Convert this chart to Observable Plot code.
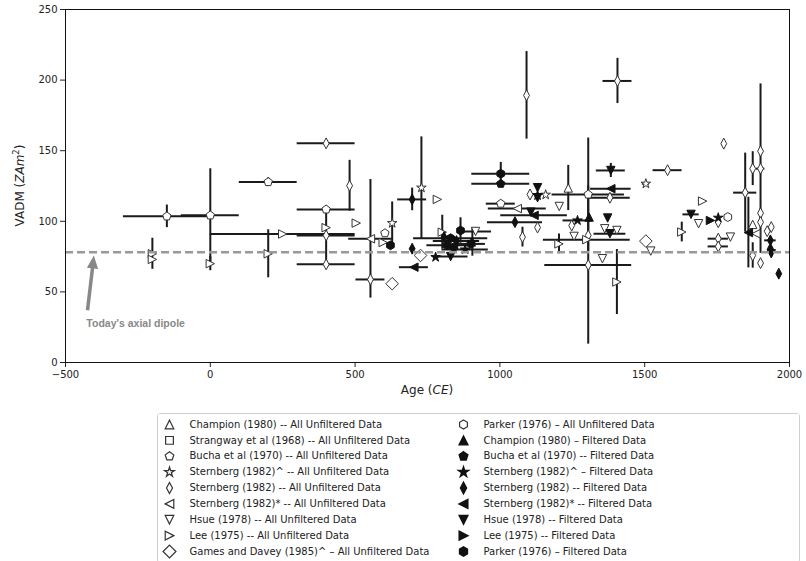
<!DOCTYPE html>
<html>
<head>
<meta charset="utf-8">
<script src="https://cdn.jsdelivr.net/npm/d3@7"></script>
<script src="https://cdn.jsdelivr.net/npm/@observablehq/plot@0.6"></script>
<style>
  body { margin: 0; background: white; }
  #wrap { position: relative; width: 806px; height: 561px; font-family: "DejaVu Sans", sans-serif; }
  #chart { position: absolute; left: 0; top: 0; }
  #legend { position: absolute; left: 157px; top: 413px; width: 643px; height: 150px; border: 1px solid #cfcfcf; border-radius: 3px; box-sizing: border-box; }
</style>
</head>
<body>
<div id="wrap"><div id="chart"></div><div id="legend"></div></div>
<script>
// ---------- DATA: [age (CE), VADM (ZAm^2), age error (±yr), VADM error (±)] ----------
const champU = [[1236, 123.6, 0, 16], [1873, 97.8, 0, 0]];
const strangwayU = [];
const buchaU = [[-150, 103.5, 150, 8], [0, 104.2, 100, 33], [200, 127.8, 100, 3], [400, 108.4, 100, 0], [603, 91.6, 0, 0], [1003, 112.5, 50, 0], [1305, 119, 125, 40]];
const sternCaretU = [[628, 98.7, 0, 15], [729, 123.8, 0, 36], [1158, 118.8, 0, 0], [1504, 126.6, 12, 0]];
const sternU = [[400, 155.2, 100, 0], [481, 125.2, 0, 18], [400, 90, 100, 21], [400, 69.5, 100, 0], [553, 58.8, 50, 0],
  [1092, 189.2, 0, 31], [1406, 199.4, 50, 16], [1104, 119, 0, 0], [1078, 88.8, 0, 7], [1130, 95.6, 0, 0], [1248, 97, 0, 0],
  [1305, 90, 0, 0], [1305, 69, 150, 56], [1380, 116.7, 70, 0], [1579, 136.2, 50, 0], [1773, 155, 0, 0], [1754, 99.4, 0, 0],
  [1754, 87.7, 35, 0], [1754, 82.2, 35, 0], [1847, 120.3, 40, 28], [1873, 137.3, 0, 12], [1900, 137.3, 15, 60],
  [1900, 149.7, 0, 0], [1900, 105.8, 0, 0], [1900, 99.4, 0, 0], [1937, 95.9, 0, 0], [1923, 93, 0, 0], [1873, 75.8, 0, 9], [1900, 70.4, 0, 0]];
const sternStarU = [[553, 87.6, 75, 42], [1060, 109, 100, 0], [1884, 91.2, 0, 0]];
const hsueU = [[916, 92.8, 55, 0], [1205, 110.5, 0, 0], [1256, 89.3, 0, 0], [1362, 94.7, 0, 0], [1404, 93.5, 0, 0],
  [1354, 73.5, 0, 0], [1521, 78.9, 0, 0], [1686, 98.3, 0, 0], [1796, 88.8, 0, 0]];
const leeU = [[-200, 77, 0, 11], [-200, 73, 0, 0], [0, 70, 0, 5], [200, 77, 0, 17], [250, 91, 250, 0], [400, 95.5, 0, 0],
  [504, 98.7, 0, 0], [597, 85, 0, 0], [784, 115.5, 0, 0], [801, 92.3, 0, 12], [1204, 84, 0, 7], [1300, 87, 150, 0],
  [1404, 57, 0, 23], [1628, 92.4, 0, 7], [1700, 114.3, 0, 0]];
const gamesU = [[628, 55.8, 0, 0], [726, 75.8, 0, 0], [1504, 86, 0, 0]];
const parkerU = [[1787, 103, 0, 0]];
const champF = [[1308, 103, 0, 0]];
const buchaF = [[1003, 126.6, 100, 0]];
const sternCaretF = [[778, 74.6, 0, 0], [905, 85.3, 0, 10], [1130, 118.3, 0, 0], [1268, 100.6, 50, 0], [1754, 102.5, 0, 0], [880, 80, 80, 0]];
const sternF = [[697, 115.5, 50, 8], [697, 80.6, 0, 0], [807, 88.8, 0, 0], [850, 86, 80, 0], [1052, 99.4, 95, 0],
  [1934, 86.5, 20, 0], [1934, 80.6, 0, 0], [1963, 62.9, 0, 0]];
const sternStarF = [[703, 67.5, 50, 0], [1383, 123.1, 70, 0], [1858, 92, 0, 25], [1118, 104.2, 115, 0]];
const hsueF = [[1130, 123.8, 0, 0], [1130, 116.7, 0, 0], [1107, 106.5, 0, 0], [1383, 136, 50, 5], [1372, 102.3, 0, 0],
  [1380, 91.2, 55, 0], [1660, 104.9, 28, 0], [1937, 77, 0, 0], [830, 75, 60, 0]];
const leeF = [[1727, 100.6, 0, 0]];
const parkerF = [[864, 93.5, 0, 9], [818, 83, 70, 0], [841, 81.7, 0, 0], [900, 84, 50, 0], [1003, 133.7, 100, 8], [622, 83, 0, 0], [830, 88, 128, 0]];

const seriesNames = [
  "Champion (1980) -- All Unfiltered Data",
  "Strangway et al (1968) -- All Unfiltered Data",
  "Bucha et al (1970) -- All Unfiltered Data",
  "Sternberg (1982)^ -- All Unfiltered Data",
  "Sternberg (1982) -- All Unfiltered Data",
  "Sternberg (1982)* -- All Unfiltered Data",
  "Hsue (1978) -- All Unfiltered Data",
  "Lee (1975) -- All Unfiltered Data",
  "Games and Davey (1985)^ \u2013 All Unfiltered Data",
  "Parker (1976) \u2013 All Unfiltered Data",
  "Champion (1980) \u2013 Filtered Data",
  "Bucha et al (1970) -- Filtered Data",
  "Sternberg (1982)^ \u2013 Filtered Data",
  "Sternberg (1982) -- Filtered Data",
  "Sternberg (1982)* -- Filtered Data",
  "Hsue (1978) -- Filtered Data",
  "Lee (1975) -- Filtered Data",
  "Parker (1976) \u2013 Filtered Data"
];
const seriesData = [champU, strangwayU, buchaU, sternCaretU, sternU, sternStarU, hsueU, leeU, gamesU, parkerU,
  champF, buchaF, sternCaretF, sternF, sternStarF, hsueF, leeF, parkerF];
const seriesFilled = [false, false, false, false, false, false, false, false, false, false,
  true, true, true, true, true, true, true, true];

const xTicks = [-500, 0, 500, 1000, 1500, 2000];
const yTicks = [0, 50, 100, 150, 200, 250];
const dipoleVADM = 78;
const dipoleArrow = [{x1: -424, y1: 37, x2: -405, y2: 70}];
const dipoleNote = [{x: -428, y: 27.5, text: "Today's axial dipole"}];

// ---------- marker shapes (matplotlib-like) ----------
function polygon(points) {
  return {draw(context, size) {
    const r = Math.sqrt(size / Math.PI);
    points.forEach(([x, y], i) => i ? context.lineTo(x * r, y * r) : context.moveTo(x * r, y * r));
    context.closePath();
  }};
}
const regular = (n, rad) => d3.range(n).map(i => { const a = (-90 + i * 360 / n) * Math.PI / 180; return [rad * Math.cos(a), rad * Math.sin(a)]; });
const starPts = d3.range(10).map(i => { const rad = i % 2 ? 0.45 : 1.2; const a = (-90 + i * 36) * Math.PI / 180; return [rad * Math.cos(a), rad * Math.sin(a)]; });
const triUp = polygon([[0, -1], [1, 1], [-1, 1]]);
const triDown = polygon([[0, 1], [1, -1], [-1, -1]]);
const triLeft = polygon([[-1, 0], [1, -1], [1, 1]]);
const triRight = polygon([[1, 0], [-1, -1], [-1, 1]]);
const square = polygon([[-0.9, -0.9], [0.9, -0.9], [0.9, 0.9], [-0.9, 0.9]]);
const pentagon = polygon(regular(5, 1.05));
const star = polygon(starPts);
const thinDiamond = polygon([[0, -1.3], [0.7, 0], [0, 1.3], [-0.7, 0]]);
const diamond = polygon([[0, -1.5], [1.5, 0], [0, 1.5], [-1.5, 0]]);
const hexagon = polygon(regular(6, 1.05));
const arrowHead = polygon([[0, -1.4], [1, 0.9], [-1, 0.9]]);
const seriesShapes = [triUp, square, pentagon, star, thinDiamond, triLeft, triDown, triRight, diamond, hexagon,
  triUp, pentagon, star, thinDiamond, triLeft, triDown, triRight, hexagon];

const rows = seriesData.flatMap((arr, i) => arr.map(([age, vadm, dx, dy]) =>
  ({series: seriesNames[i], filled: seriesFilled[i], age, vadm, dx, dy})));

const symbolScale = {domain: seriesNames, range: seriesShapes, legend: false};
const fmtX = d => d < 0 ? "\u2212" + Math.abs(d) : String(d);

const chart = Plot.plot({
  width: 806, height: 402,
  marginLeft: 65, marginRight: 17, marginTop: 9, marginBottom: 40,
  style: {fontFamily: "DejaVu Sans", fontSize: "10px", color: "#222", background: "white", overflow: "visible"},
  x: {domain: [-500, 2000], ticks: xTicks, tickFormat: fmtX, tickSize: 5, tickPadding: 3, label: null},
  y: {domain: [0, 250], ticks: yTicks, tickFormat: d => String(d), tickSize: 5, tickPadding: 3, label: null},
  symbol: symbolScale,
  marks: [
    Plot.ruleY(rows.filter(d => d.dx > 0), {y: "vadm", x1: d => d.age - d.dx, x2: d => d.age + d.dx, stroke: "#1a1a1a", strokeWidth: 2}),
    Plot.ruleX(rows.filter(d => d.dy > 0), {x: "age", y1: d => d.vadm - d.dy, y2: d => d.vadm + d.dy, stroke: "#1a1a1a", strokeWidth: 2}),
    Plot.dot(rows.filter(d => !d.filled), {x: "age", y: "vadm", symbol: "series", r: 4.2, fill: "white", stroke: "#333", strokeWidth: 1}),
    Plot.dot(rows.filter(d => d.filled), {x: "age", y: "vadm", symbol: "series", r: 4.2, fill: "#111", stroke: "#111", strokeWidth: 1}),
    Plot.ruleY([dipoleVADM], {stroke: "#999", strokeWidth: 2.5, strokeDasharray: "8,4"}),
    Plot.link(dipoleArrow, {x1: "x1", y1: "y1", x2: "x2", y2: "y2", stroke: "#888", strokeWidth: 3.5}),
    Plot.dot(dipoleArrow, {x: "x2", y: "y2", symbol: () => arrowHead, r: 4.5, rotate: 6, fill: "#888", stroke: "#888"}),
    Plot.text(dipoleNote, {x: "x", y: "y", text: "text", textAnchor: "start", fill: "#888", fontWeight: "bold", fontFamily: "Liberation Sans", fontSize: 10.5}),
    Plot.frame({stroke: "#111", strokeWidth: 1})
  ]
});

// axis titles with italic / superscript parts
const svg = d3.select(chart);
const xs = chart.scale("x").range, ys = chart.scale("y").range;
const xt = svg.append("text").attr("x", (xs[0] + xs[1]) / 2).attr("y", 394).attr("text-anchor", "middle")
  .attr("font-size", 12).attr("fill", "#222");
xt.append("tspan").text("Age (");
xt.append("tspan").attr("font-style", "italic").text("CE");
xt.append("tspan").text(")");
const yt = svg.append("text").attr("transform", `translate(24,${(ys[0] + ys[1]) / 2}) rotate(-90)`).attr("text-anchor", "middle")
  .attr("font-size", 12).attr("fill", "#222");
yt.append("tspan").text("VADM (");
yt.append("tspan").attr("font-style", "italic").text("ZAm");
yt.append("tspan").attr("font-size", 8.5).attr("dy", -5).text("2");
yt.append("tspan").attr("dy", 5).text(")");

document.getElementById("chart").append(chart);

// ---------- legend (second Plot, same symbol scale) ----------
const legendRows = seriesNames.map((name, i) => ({name, filled: seriesFilled[i], col: Math.floor(i / 9), row: i % 9}));
const legend = Plot.plot({
  width: 641, height: 146, margin: 0,
  style: {fontFamily: "DejaVu Sans", fontSize: "10px", color: "#222", background: "white", overflow: "visible"},
  x: {type: "linear", domain: [0, 1], range: [11, 305], axis: null},
  y: {type: "linear", domain: [0, 8], range: [10, 137], axis: null},
  symbol: symbolScale,
  marks: [
    Plot.dot(legendRows.filter(d => !d.filled), {x: "col", y: "row", symbol: "name", r: 4.3, fill: "white", stroke: "#333", strokeWidth: 1.2}),
    Plot.dot(legendRows.filter(d => d.filled), {x: "col", y: "row", symbol: "name", r: 4.3, fill: "#111", stroke: "#111"}),
    Plot.text(legendRows, {x: "col", y: "row", text: "name", dx: 20, textAnchor: "start", fill: "#222", fontSize: 10})
  ]
});
document.getElementById("legend").append(legend);
</script>
</body>
</html>
